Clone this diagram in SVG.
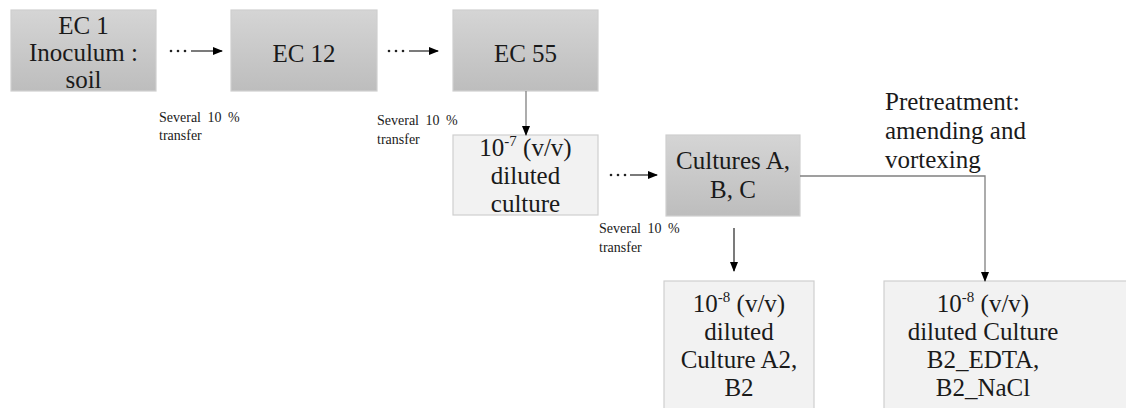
<svg xmlns="http://www.w3.org/2000/svg" width="1126" height="408" viewBox="0 0 1126 408">
<defs>
<linearGradient id="g" x1="0" y1="0" x2="0" y2="1">
<stop offset="0" stop-color="#d5d5d5"/>
<stop offset="1" stop-color="#bdbdbd"/>
</linearGradient>
<marker id="ah" markerWidth="10" markerHeight="8" refX="9" refY="4" orient="auto" markerUnits="userSpaceOnUse">
<path d="M0,0 L10,4 L0,8 Z" fill="#000"/>
</marker>
<style>
.dark{fill:url(#g);stroke:#cfcfcf;stroke-width:1.2}
.light{fill:#f2f2f2;stroke:#cfcfcf;stroke-width:1.2}
.t{font-family:"Liberation Serif","Times New Roman",serif;font-size:25px;fill:#1a1a1a;text-anchor:middle}
.tl{font-family:"Liberation Serif","Times New Roman",serif;font-size:25px;fill:#1a1a1a}
.s{font-family:"Liberation Serif","Times New Roman",serif;font-size:14px;fill:#1a1a1a;word-spacing:3px}
.ln{stroke:#222;stroke-width:1.2;fill:none}
.gl{stroke:#808080;stroke-width:1.3;fill:none}
.dot{fill:#222}
</style>
</defs>
<g id="ec1">
<rect class="dark" x="11" y="10" width="145" height="81"/>
<text class="t" x="83.5" y="34">EC 1</text>
<text class="t" x="83.5" y="61">Inoculum :</text>
<text class="t" x="83.5" y="88">soil</text>
</g>
<g id="ec12">
<rect class="dark" x="231" y="10" width="146" height="81"/>
<text class="t" x="304" y="62">EC 12</text>
</g>
<g id="ec55">
<rect class="dark" x="453" y="10" width="145" height="81"/>
<text class="t" x="525.5" y="62">EC 55</text>
</g>
<g id="diluted7">
<rect class="light" x="453" y="135" width="145" height="80"/>
<text class="t" x="525.5" y="156">10<tspan font-size="15" dy="-10">-7</tspan><tspan dy="10"> (v/v)</tspan></text>
<text class="t" x="525.5" y="184">diluted</text>
<text class="t" x="525.5" y="212">culture</text>
</g>
<g id="cultures">
<rect class="dark" x="666" y="135" width="134" height="81"/>
<text class="t" x="733" y="169">Cultures A,</text>
<text class="t" x="733" y="198">B, C</text>
</g>
<g id="a2b2">
<rect class="light" x="664" y="281" width="150" height="135"/>
<text class="t" x="739" y="312">10<tspan font-size="15" dy="-10">-8</tspan><tspan dy="10"> (v/v)</tspan></text>
<text class="t" x="739" y="340">diluted</text>
<text class="t" x="739" y="368">Culture A2,</text>
<text class="t" x="739" y="396">B2</text>
</g>
<g id="b2treat">
<rect class="light" x="884" y="281" width="250" height="135"/>
<text class="t" x="983" y="312">10<tspan font-size="15" dy="-10">-8</tspan><tspan dy="10"> (v/v)</tspan></text>
<text class="t" x="983" y="340">diluted Culture</text>
<text class="t" x="983" y="368">B2_EDTA,</text>
<text class="t" x="983" y="396">B2_NaCl</text>
</g>
<g id="labels">
<text class="s" x="159" y="122">Several 10 %</text>
<text class="s" x="159" y="140">transfer</text>
<text class="s" x="377" y="125">Several 10 %</text>
<text class="s" x="377" y="144">transfer</text>
<text class="s" x="599" y="233">Several 10 %</text>
<text class="s" x="599" y="252">transfer</text>
<text class="tl" x="885" y="110">Pretreatment:</text>
<text class="tl" x="885" y="139">amending and</text>
<text class="tl" x="885" y="168">vortexing</text>
</g>
<g id="connectors">
<circle class="dot" cx="171" cy="51" r="1.3"/><circle class="dot" cx="178" cy="51" r="1.3"/><circle class="dot" cx="185" cy="51" r="1.3"/>
<line class="ln" x1="191" y1="51" x2="222" y2="51" marker-end="url(#ah)"/>
<circle class="dot" cx="389" cy="51" r="1.3"/><circle class="dot" cx="396" cy="51" r="1.3"/><circle class="dot" cx="403" cy="51" r="1.3"/>
<line class="ln" x1="409" y1="51" x2="438" y2="51" marker-end="url(#ah)"/>
<line class="gl" x1="526" y1="91" x2="526" y2="135" marker-end="url(#ah)"/>
<circle class="dot" cx="611" cy="175" r="1.3"/><circle class="dot" cx="618" cy="175" r="1.3"/><circle class="dot" cx="625" cy="175" r="1.3"/>
<line class="ln" x1="630" y1="175" x2="657" y2="175" marker-end="url(#ah)"/>
<line class="ln" x1="734" y1="228" x2="734" y2="271" marker-end="url(#ah)"/>
<polyline class="gl" points="800,176 985,176 985,281" marker-end="url(#ah)"/>
</g>
</svg>
